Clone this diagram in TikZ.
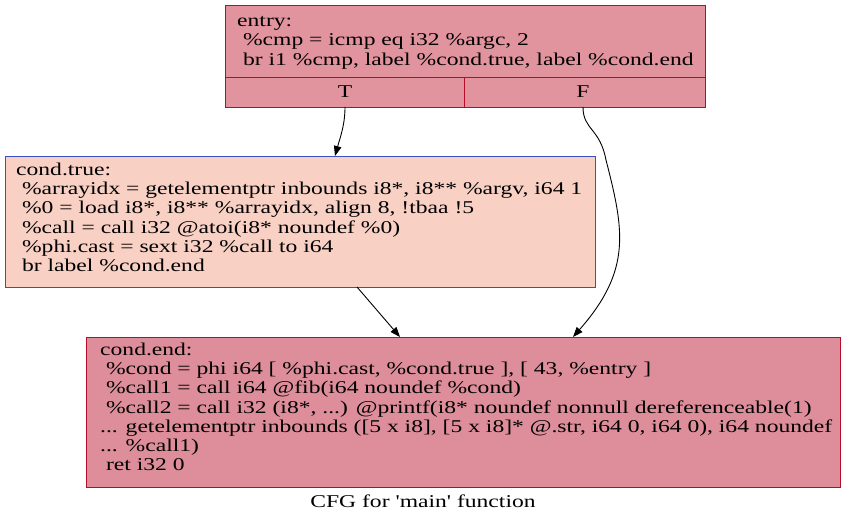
\documentclass[tikz,border=0pt]{standalone}
\usepackage{fontspec}
\setmainfont{Liberation Serif}[Ligatures=TeXOff, FakeStretch=1.31]
\usetikzlibrary{arrows.meta}
\definecolor{entryfill}{HTML}{E1949E}
\definecolor{endfill}{HTML}{DD8E9A}
\definecolor{truefill}{HTML}{F9D1C4}
\definecolor{redborder}{HTML}{B70D28}
\definecolor{blueborder}{HTML}{3D50C3}
\tikzset{
  block/.style={rectangle, anchor=north west, inner sep=0pt, line width=0.9pt},
  code/.style={anchor=north west, inner sep=0pt, align=left, font=\fontsize{18}{19.3}\selectfont},
  portlabel/.style={inner sep=0pt, font=\fontsize{18}{19.3}\selectfont},
  edge/.style={draw=black, line width=0.9pt, -{Triangle[length=10pt,width=7.5pt]}}
}
\begin{document}
\begin{tikzpicture}[x=1pt,y=-1pt]
\useasboundingbox (0,0) rectangle (847,524);
% entry block
\node[block, draw=redborder, fill=entryfill, minimum width=480pt, minimum height=102pt] (entry) at (225,5) {};
\draw[redborder, line width=0.9pt] (225,77) -- (705,77);
\draw[redborder, line width=0.9pt] (464,77) -- (464,107);
\node[code] (entrytext) at (237,16.2) {entry:\\\ \%cmp = icmp eq i32 \%argc, 2\\\ br i1 \%cmp, label \%cond.true, label \%cond.end};
\node[portlabel] (T) at (345,92) {T};
\node[portlabel] (F) at (583,92) {F};
\coordinate (Tp) at (345,107);
\coordinate (Fp) at (583,107);
% cond.true block
\node[block, draw=blueborder, fill=truefill, minimum width=590pt, minimum height=131pt] (ctrue) at (5,156) {};
\node[code] (ctruetext) at (16,162.5) {cond.true:\\\ \%arrayidx = getelementptr inbounds i8*, i8** \%argv, i64 1\\\ \%0 = load i8*, i8** \%arrayidx, align 8, !tbaa !5\\\ \%call = call i32 @atoi(i8* noundef \%0)\\\ \%phi.cast = sext i32 \%call to i64\\\ br label \%cond.end};
% cond.end block
\node[block, draw=redborder, fill=endfill, minimum width=754pt, minimum height=150pt] (cend) at (86,337) {};
\node[code] (cendtext) at (100,342.5) {cond.end:\\\ \%cond = phi i64 [ \%phi.cast, \%cond.true ], [ 43, \%entry ]\\\ \%call1 = call i64 @fib(i64 noundef \%cond)\\\ \%call2 = call i32 (i8*, ...) @printf(i8* noundef nonnull dereferenceable(1)\\... getelementptr inbounds ([5 x i8], [5 x i8]* @.str, i64 0, i64 0), i64 noundef\\... \%call1)\\\ ret i32 0};
\node[portlabel] (caption) at (423,501) {CFG for 'main' function};
% edges
\coordinate (ctruein) at (335,156);
\coordinate (ctrueout) at (357,287);
\coordinate (cendinA) at (400,337);
\coordinate (cendinB) at (573,337);
\draw[edge] (Tp) .. controls (345,125) and (340,138) .. (ctruein);
\draw[edge] (Fp) .. controls (583,130) and (600,128) .. (606,160) .. controls (624,230) and (632,270) .. (cendinB);
\draw[edge] (ctrueout) -- (cendinA);
\end{tikzpicture}
\end{document}
